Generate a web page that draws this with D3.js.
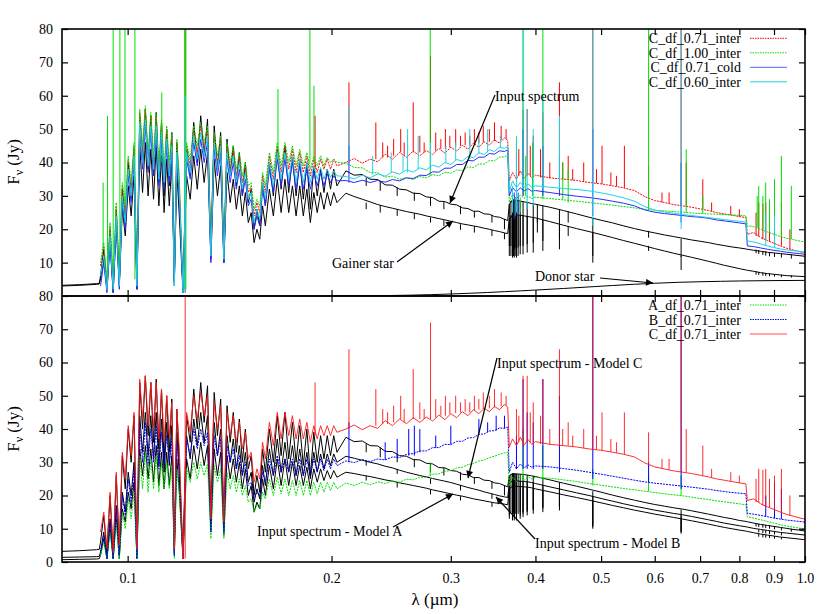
<!DOCTYPE html>
<html><head><meta charset="utf-8">
<script src="https://cdn.jsdelivr.net/npm/d3@7"></script>
<style>body{margin:0;background:#fff}text{font-family:"Liberation Serif","Times New Roman",Times,serif}</style>
</head><body>
<svg id="c" width="830" height="614"></svg>
<script>
// ---- wavelength grid (micron) ----
const grid = [0.080,0.085,0.090,0.0908,
0.0912,0.0922,0.0932,0.0942,0.0952,0.0962,0.0972,0.0982,0.0992,0.1002,0.1012,0.1022,0.1032,0.1042,0.1052,0.1062,0.1072,0.1082,0.1092,0.1102,0.1112,0.1122,0.1132,0.1142,0.1152,0.1162,0.1172,0.1182,0.1192,
0.1207,0.1222,0.1237,0.1252,0.1267,0.1282,0.1297,0.1312,0.1327,0.1342,0.1357,0.1372,0.1387,0.1402,0.1417,0.1432,0.1447,0.1462,0.1477,0.1492,0.1507,0.1522,0.1537,0.1552,0.1567,0.1582,0.1597,
0.1619,0.1641,0.1663,0.1685,0.1707,0.1729,0.1751,0.1773,0.1795,0.1817,0.1839,0.1861,0.1883,0.1905,0.1927,0.1949,0.1971,0.1993,0.2015,0.2037,
0.210,0.216,0.222,0.228,0.234,0.240,0.246,0.252,0.258,0.264,0.270,0.276,0.282,0.288,0.294,0.300,0.306,0.312,0.318,0.324,0.330,0.336,0.342,0.348,0.354,0.360,0.364,
0.366,0.370,0.375,0.380,0.385,0.390,0.395,0.400,
0.42,0.44,0.46,0.48,0.50,0.52,0.54,0.56,0.58,0.60,0.62,0.64,0.66,0.68,0.70,0.72,0.74,0.76,0.78,0.80,
0.818,0.822,0.84,0.86,0.88,0.90,0.92,0.94,0.96,0.98,1.00];

// ---- top panel series (Jy) ----
const inputTop = [3.2,3.4,3.7,3.8,
6,14,3,20,2,26,4,32,22,40,30,44,3,54,40,56,38,54,36,55,34,52,30,50,33,49,5,46,30,2,44,36,52,40,54,42,53,14,51,38,49,13,47,36,45,33,43,30,40,28,32,20,26,21,34,27,40,30,44,32,45,31,42,30,41,29,40,26,39,30,38,31,38,32,38,33,
37.5,36.2,36.4,35.0,34.9,33.3,33.2,32.0,31.8,30.8,30.7,29.7,29.5,28.4,28.3,27.5,27.3,26.4,26.2,25.4,25.4,24.6,24.5,23.8,23.6,23.0,22.6,
27.5,28.8,28.7,28.4,28.2,28.0,27.7,27.5,26.6,25.6,24.6,23.6,22.7,21.9,21.0,20.2,19.5,18.9,18.3,17.8,17.3,16.8,16.4,16.0,15.5,15.1,14.7,14.4,14.1,14.0,13.7,13.4,13.1,12.9,12.7,12.5,12.3,12.1,11.9];
const gainer = [3.0,3.2,3.5,3.6,
5,11,2,16,1,21,3,26,18,33,24,36,2,45,31,46,30,44,29,45,27,42,25,41,27,40,4,37,24,1,36,29,42,32,44,34,43,11,41,30,39,10,37,28,35,26,33,24,31,22,25,16,20,17,27,21,32,24,35,25,35,25,33,24,33,24,32,22,31,25,31,26,31,27,31,28,
30.8,29.8,29.0,28.2,27.4,26.8,26.3,25.8,25.3,24.9,24.5,24.0,23.6,23.2,22.8,22.4,22.0,21.6,21.3,21.0,20.7,20.3,20.0,19.6,19.3,18.9,18.7,
23.0,24.3,24.3,24.2,24.0,23.8,23.6,23.4,22.3,21.2,20.2,19.3,18.4,17.5,16.6,15.8,15.0,14.2,13.5,12.8,12.2,11.6,11.0,10.4,9.8,9.2,8.7,8.2,7.8,7.7,7.4,7.0,6.7,6.5,6.3,6.1,6.0,5.9,5.8];
const donor = [[0.20,0],[0.22,0.04],[0.24,0.12],[0.26,0.24],[0.28,0.40],[0.30,0.60],[0.32,0.82],[0.34,1.05],[0.36,1.30],[0.38,1.54],[0.40,1.78],[0.44,2.25],[0.48,2.72],[0.52,3.15],[0.56,3.52],[0.60,3.82],[0.65,4.10],[0.70,4.27],[0.75,4.40],[0.80,4.50],[0.90,4.62],[1.00,4.68]];
const C071inter = [null,null,null,null,
9,15,4,21,3,27,5,33,25,41,32,45,4,55,43,56,41,54,40,54,37,52,36,50,38,48,4,46,34,1,45,39,50,43,51,44,50,13,48,40,47,12,45,38,44,36,42,34,39,31,33,24,28,25,36,31,42,35,45,37,45,38,44,37,43,37,42,36,41,37,41,38,41,38,41,39,
40.0,41.2,39.8,41.0,40.2,42.5,41.0,43.0,41.6,43.4,42.0,43.6,42.4,44.2,42.8,44.6,43.4,45.2,44.0,45.8,44.6,46.2,45.2,46.8,45.8,47.4,46.6,
34.5,37.0,35.0,37.5,35.2,36.8,35.4,36.2,35.4,35.0,34.6,34.0,33.6,33.0,32.4,31.6,29.8,28.6,28.0,27.4,27.0,26.6,26.1,25.6,25.0,24.6,24.2,23.8,23.5,18.5,19.0,17.5,16.6,15.8,15.0,14.3,13.8,13.3,12.9];
const C100inter = [null,null,null,null,
10,16,5,22,4,28,6,34,27,42,34,46,5,56,45,57,43,55,42,55,39,53,38,51,40,49,5,47,36,2,46,41,51,45,52,46,51,14,49,42,48,13,46,40,45,38,43,36,40,33,34,26,29,27,37,33,43,37,46,39,46,40,45,39,44,39,43,38,42,39,42,39,41.5,40,41,40,
39.8,38.5,38.4,37.0,36.9,35.6,35.9,35.0,35.5,34.9,35.8,35.4,36.4,36.0,37.1,36.8,37.8,37.6,38.7,38.5,39.6,39.5,40.6,40.5,41.6,41.7,42.2,
28.0,30.5,29.2,30.2,29.3,29.9,29.2,29.6,29.2,28.8,28.4,28.0,27.6,27.2,26.8,26.4,26.0,25.7,25.5,25.3,25.1,24.9,24.7,24.6,24.5,24.4,24.3,24.2,24.0,21.0,20.8,20.0,19.2,18.5,17.8,17.3,16.9,16.5,16.2];
const C071cold = [null,null,null,null,
3,10,1,16,1,22,2,28,20,36,28,40,2,50,38,51,37,49,36,49,33,47,32,45,34,43,3,41,30,1,41,35,46,39,47,40,46,10,44,36,43,10,41,34,40,32,38,30,35,27,29,20,24,21,32,27,38,31,41,33,41,33,40,32,39,32,38,32,37,33,37,33,36.5,34,36,34.5,
34.6,34.0,34.7,34.0,34.6,34.1,34.9,34.5,35.4,35.2,36.2,36.1,37.2,37.1,38.3,38.3,39.4,39.4,40.6,40.5,41.6,41.6,42.7,42.5,43.5,43.3,43.8,
30.0,32.5,31.2,32.4,31.5,32.2,31.4,31.6,31.0,30.4,29.9,29.5,29.0,28.4,27.8,27.0,25.8,25.1,24.7,24.4,24.1,23.8,23.6,23.3,22.8,22.5,22.2,21.9,21.6,15.0,14.8,14.4,14.0,13.7,13.4,13.1,12.9,12.7,12.5];
const C060inter = [null,null,null,null,
6,12,2,18,2,24,3,30,22,38,30,42,3,52,40,53,39,51,38,51,35,49,34,47,36,45,3,43,32,1,43,37,48,41,49,42,48,12,46,38,45,11,43,36,42,34,40,32,37,29,31,22,26,23,34,29,40,33,43,35,43,35,42,34,41,34,40,34,39,35,38.5,35,38,35.5,37.5,36,
35.8,35.1,36.2,35.4,36.6,35.9,37.2,36.5,37.8,37.1,38.4,37.8,39.2,38.6,40.0,39.4,40.9,40.4,41.9,41.4,42.9,42.4,43.8,43.3,44.6,44.2,44.8,
31.0,34.5,32.5,34.0,32.6,33.6,32.6,33.0,32.6,32.2,31.9,31.5,30.9,30.2,29.4,28.4,26.8,25.7,25.2,24.8,24.4,24.1,23.8,23.5,23.2,22.9,22.6,22.4,22.1,16.5,16.2,15.6,15.0,14.5,14.1,13.8,13.6,13.4,13.2];

// ---- bottom panel series (Jy) ----
const inputC = [3.2,3.4,3.7,3.8,
6,14,3,20,2,26,4,32,22,40,30,44,3,54,40,56,38,54,36,55,34,52,30,50,33,49,5,46,30,2,44,36,52,40,54,42,53,14,51,38,49,13,47,36,45,33,43,30,40,28,32,20,26,21,34,27,40,30,44,32,45,31,42,30,41,29,40,26,39,30,38,31,38,32,38,33,
37.5,36.2,36.4,35.0,34.9,33.3,33.2,32.0,31.8,30.8,30.7,29.7,29.5,28.4,28.3,27.5,27.3,26.4,26.2,25.4,25.4,24.6,24.5,23.8,23.6,23.0,22.6,
26.0,26.6,26.5,26.4,26.3,26.1,25.9,25.7,24.7,23.7,22.8,21.9,21.0,20.1,19.3,18.6,17.9,17.3,16.8,16.3,15.9,15.4,14.9,14.4,13.9,13.4,13.0,12.5,12.2,12.1,11.7,11.3,11.0,10.7,10.4,10.1,9.8,9.6,9.3];
const inputB = [1.4,1.5,1.6,1.7,
3,9,1,13,1,17,2,21,15,27,20,30,2,44,33,45,32,44,31,45,29,43,27,42,29,41,3,39,26,1,38,31,43,35,45,36,44,11,42,32,40,10,38,30,37,28,35,26,33,24,27,18,22,19,29,23,34,26,37,27,36,27,35,26,34,26,33,25,33,27,32.5,28,32.5,29,32.5,30,
31.8,31.2,30.6,30.0,29.5,28.8,28.3,27.6,27.0,26.5,26.0,25.6,25.1,24.7,24.3,23.9,23.4,22.9,22.4,22.0,21.6,21.1,20.7,20.3,19.9,19.6,19.4,
23.6,24.4,24.4,24.3,24.2,24.1,23.9,23.6,22.6,21.7,20.8,20.0,19.1,18.3,17.5,16.8,16.2,15.6,15.1,14.6,14.2,13.7,13.2,12.7,12.2,11.7,11.3,10.9,10.6,10.5,10.1,9.8,9.5,9.2,8.9,8.7,8.5,8.3,8.1];
const inputA = [0.7,0.8,0.9,1.0,
2,7,1,10,1,13,1,16,12,21,16,24,1,34,26,35,25,34,24,35,23,33,22,33,23,32,2,31,21,1,31,25,35,28,36,29,35,9,34,26,33,8,32,25,31,24,30,22,28,20,23,15,18,16,25,20,29,22,31,23,31,23,30,23,29,23,28.5,22,28,24,28,24.5,27.5,25,27.5,25.5,
27.0,26.6,26.1,25.7,25.2,24.7,24.3,23.8,23.4,23.0,22.6,22.2,21.7,21.3,20.9,20.5,20.1,19.8,19.4,19.0,18.7,18.4,18.1,17.8,17.6,17.4,17.2,
22.0,22.8,22.8,22.7,22.6,22.5,22.3,22.0,21.1,20.2,19.4,18.6,17.8,17.0,16.3,15.6,15.0,14.4,13.9,13.4,12.9,12.4,11.9,11.4,10.9,10.4,10.0,9.6,9.3,9.2,8.8,8.4,8.1,7.8,7.5,7.3,7.1,6.9,6.7];
const B071inter = [null,null,null,null,
3,8,1,12,1,16,2,20,14,25,18,28,1,41,30,42,29,40,30,41,28,39,29,38,30,37,2,36,28,1,37,32,40,34,40,35,39,9,38,32,37,9,35,30,34,28,32,26,30,23,24,19,21,20,27,24,31,26,32,27,31,27,31,26,31,26,31,26,31,27,31,27.5,31,28,31,29,
30.4,29.9,30.8,30.2,31.0,30.7,31.6,31.4,32.4,32.6,33.4,33.4,34.4,34.4,35.4,35.3,36.3,36.3,37.3,37.4,38.4,38.5,39.4,39.5,40.3,40.2,40.6,
27.0,30.0,28.0,29.5,28.3,29.2,28.5,28.9,28.6,28.1,27.6,27.0,26.4,25.8,25.2,24.6,24.1,23.7,23.4,23.1,22.8,22.5,22.2,21.9,21.5,21.2,20.9,20.7,20.5,14.6,14.4,14.0,13.6,13.2,12.9,12.6,12.4,12.2,12.0];
const A071inter = [null,null,null,null,
2,6,1,9,1,12,1,15,10,19,13,21,1,32,22,33,21,31,22,32,21,30,22,30,22,29,1,28,21,1,28,24,30,25,30,26,29.5,7,29,24,28,7,27,22,26,21,25,20,23,18,19,15,17,16,21,19,25,20,25.5,20.5,25,20,24.5,20,24.5,20,24.5,20,24,20.5,24,21,24,21.5,24,22,
23.8,23.0,24.0,23.2,24.1,23.6,24.4,24.0,24.9,24.7,25.5,25.5,26.4,26.5,27.3,27.5,28.3,28.5,29.3,29.6,30.4,30.7,31.4,31.8,32.4,32.8,33.0,
23.0,25.5,24.2,25.6,24.6,25.6,25.0,25.5,25.2,24.7,24.2,23.6,23.1,22.6,22.1,21.7,21.3,20.9,20.5,20.2,19.9,19.5,19.1,18.8,18.4,18.1,17.8,17.5,17.2,13.6,13.2,12.7,12.2,11.7,11.2,10.8,10.5,10.2,10.0];

// ---- narrow lines: [wavelength, low Jy, high Jy] ----
const C100Lines = [[0.0920,14,34],[0.0934,5,54],[0.0952,4,85],[0.0974,6,85],[0.0991,27,85],[0.1025,5,85],[0.1123,40,61],[0.1214,2,85],[0.1219,2,85],[0.1667,40,62],[0.1858,40,85],[0.1884,40,63],[0.2797,36,85],[0.3734,24,29.5],[0.3798,25,29.5],[0.3835,30,85],[0.3870,30,42],[0.3960,30,46],[0.4102,29,85],[0.4390,29,40],[0.4471,28,38],[0.5876,25.8,85],[0.6678,25,44],[0.7065,24.6,30],[0.8500,20.5,30],[0.8545,20.4,33],[0.8665,20,30],[0.8750,19.7,34],[0.8863,19.3,29],[0.9015,18.7,35],[0.9229,17.8,42],[0.9546,17.1,33]];
const C071Lines = [[0.1216,1,85],[0.1891,38,54],[0.2122,40,64],[0.2325,41,52],[0.2380,41.5,46],[0.2420,41.5,45],[0.2470,42,47],[0.2530,43,50],[0.2560,42,46],[0.2640,43,58],[0.2700,43,48],[0.2740,43,46],[0.2800,43,72],[0.2850,43.5,49],[0.2900,44,47],[0.2945,44,50],[0.2990,44.5,48],[0.3050,44.8,50],[0.3100,45,48],[0.3150,45.2,49],[0.3200,45,48],[0.3250,45.6,50],[0.3300,45.8,49],[0.3350,46,51],[0.3420,46.2,50],[0.3480,46.5,52],[0.3560,46.8,51],[0.3620,47,50],
[0.3750,36,46],[0.3780,36,44],[0.3835,35,56],[0.3889,36,56],[0.3930,36,45],[0.3970,36,48],[0.4070,35.5,44],[0.4102,35.5,55],[0.4200,35.3,40],[0.4340,35,64],[0.4388,35,40],[0.4471,35,42],[0.4540,34.7,38],[0.4713,34.3,40],[0.4861,34,85],[0.4922,33.8,38],[0.5016,33.6,45],[0.5169,33.1,37],[0.5270,32.9,36],[0.5412,32.4,45],[0.5876,29.5,39],[0.6150,28.1,31],[0.6300,27.8,31],[0.6563,27,85],[0.6678,26.9,40],[0.7065,26,35],[0.7280,25.4,28],[0.7770,24.3,27],[0.8000,23.8,26],[0.8467,18,25],[0.8545,17.8,28],[0.8665,17,27.7],[0.8750,16.8,28],[0.8863,16.4,25],[0.9015,15.8,26],[0.9229,15.1,28],[0.9500,14,20]];
const C071coldLines = [[0.2122,34,45],[0.3722,23,31],[0.3771,24,31],[0.3835,30,50],[0.4102,30,45],[0.4340,30,42],[0.4861,24,50],[0.6563,22,40]];
const C060Lines = [[0.1216,1,60],[0.2122,40,57],[0.2300,36.4,42],[0.2450,37,43],[0.2550,37.4,42],[0.2590,37,50],[0.2685,38,48],[0.2800,38,46],[0.2950,40,45],[0.3050,40.5,46],[0.3200,41,50],[0.3300,42.6,47],[0.3400,43,50],[0.3550,44.3,48],[0.3700,25,33],[0.3750,25,48],[0.3835,32,85],[0.3889,26,56],[0.3970,27,50],[0.4102,32,60],[0.4340,32,54],[0.4861,21,85],[0.6563,20,85],[0.8750,15,25],[0.9015,14.5,24]];
const inputTopLines = [[0.2250,33,35.5],[0.2360,31.5,34.5],[0.2500,30,32.5],[0.2650,28.5,31],[0.2800,27,29.7],[0.2930,26,28.3],[0.3100,24.5,27],[0.3250,23.5,25.5],[0.3450,22,24.3],[0.3600,20,23.1],[0.3660,15,27.5],[0.3680,15,28.5],[0.3700,14,28.8],[0.3712,14.5,28.8],[0.3722,14,28.8],[0.3734,14.5,28.7],[0.3750,14,28.7],[0.3771,14.5,28.6],[0.3798,15,28.4],[0.3835,15,28.3],[0.3889,15.5,28.1],[0.3970,16,27.7],[0.4026,22,27.4],[0.4102,16.5,27.1],[0.4340,17,26],[0.4471,22,25.3],[0.4861,12,23.4],[0.5876,17.5,19.5],[0.6563,11.7,17.1],[0.8467,12.8,13.9],[0.8545,12.6,13.8],[0.8665,12.3,13.5],[0.8750,12.1,13.4],[0.8863,11.9,13.2],[0.9015,11.7,12.9],[0.9229,11.5,12.7],[0.9546,11.2,12.4]];
const gainerLines = [[0.2250,26,28],[0.2360,25,27.2],[0.2500,24,25.9],[0.2650,23,24.8],[0.2800,22,23.5],[0.2930,21,22.7],[0.3100,19.8,21.5],[0.3250,19,20.9],[0.3450,18,19.8],[0.3600,17,18.9],[0.3660,12,23],[0.3680,12,24.2],[0.3700,11.5,24.3],[0.3712,12,24.3],[0.3722,11.5,24.3],[0.3734,12,24.3],[0.3750,11.5,24.3],[0.3771,12,24.2],[0.3798,12.5,24.2],[0.3835,12.5,24.1],[0.3889,13,23.9],[0.3970,13,23.6],[0.4026,19,23.3],[0.4102,13.5,22.9],[0.4340,14,21.6],[0.4471,18,21],[0.4861,10,19],[0.5876,13.5,15],[0.6563,7.8,12.0],[0.8467,6.4,7.3],[0.8545,6.3,7.2],[0.8665,6.1,7.0],[0.8750,6.0,6.9],[0.8863,5.9,6.8],[0.9015,5.8,6.6],[0.9229,5.6,6.4],[0.9546,5.5,6.2]];
const inputCLines = [[0.2250,33,35.5],[0.2360,31.5,34.5],[0.2500,30,32.5],[0.2650,28.5,31],[0.2800,27,29.7],[0.2930,26,28.3],[0.3100,24.5,27],[0.3250,23.5,25.5],[0.3450,22,24.3],[0.3600,20,23.1],[0.3660,15,26],[0.3680,15,26.4],[0.3700,14,26.6],[0.3712,14.5,26.6],[0.3722,14,26.6],[0.3734,14.5,26.5],[0.3750,14,26.5],[0.3771,14.5,26.4],[0.3798,15,26.4],[0.3835,15,26.3],[0.3889,15.5,26.1],[0.3970,16,25.8],[0.4102,16.5,25.1],[0.4340,17,24.0],[0.4861,11.1,21.3],[0.6563,9.1,15.8],[0.8467,10.7,11.6],[0.8545,10.5,11.5],[0.8665,10.3,11.3],[0.8750,10.2,11.1],[0.8863,10.0,11.0],[0.9015,9.8,10.7],[0.9229,9.5,10.4],[0.9546,9.1,10.0]];
const inputBLines = [[0.2250,29,30.4],[0.2500,26.5,28],[0.2800,23.5,25],[0.3100,21.5,23.1],[0.3450,19,20.5],[0.3660,14,23.6],[0.3700,13.5,24.4],[0.3722,13.5,24.4],[0.3750,13.5,24.4],[0.3798,14,24.3],[0.3835,14.5,24.2],[0.3889,15,24.1],[0.3970,15.5,23.8],[0.4102,16,23.1],[0.4340,16.5,22.2],[0.4861,10.5,19.6],[0.6563,9.0,14.0],[0.8545,8.9,9.8],[0.8665,8.7,9.6],[0.8750,8.6,9.5],[0.8863,8.4,9.4],[0.9015,8.3,9.2],[0.9229,8.0,8.9]];
const inputALines = [[0.2250,24.5,25.9],[0.2500,22.4,23.8],[0.2800,20.3,21.7],[0.3100,18.5,19.8],[0.3450,16.6,17.9],[0.3660,13,22],[0.3700,12.5,22.8],[0.3722,12.5,22.8],[0.3750,12.5,22.8],[0.3798,13,22.7],[0.3835,13.5,22.6],[0.3889,14,22.5],[0.3970,14.5,22.2],[0.4102,15,21.4],[0.4340,15.5,20.5],[0.4861,10,18.4],[0.6563,8.5,13.0],[0.8545,7.6,8.4],[0.8665,7.4,8.3],[0.8750,7.3,8.2],[0.8863,7.2,8.1],[0.9015,7.0,7.8],[0.9229,6.8,7.5]];
const B071Lines = [[0.2122,30,42],[0.2400,30.7,36],[0.2500,31.3,37],[0.2600,32,40],[0.2650,32,41],[0.2700,33,40],[0.2850,34.4,38],[0.3000,35.3,41],[0.3300,38.4,43],[0.3400,39,42],[0.3500,39.5,44],[0.3600,40.2,44],[0.3750,28,38],[0.3835,28,55],[0.3889,28,45],[0.3970,28,42],[0.4102,28,55],[0.4340,27,50],[0.4861,25,85],[0.5876,24,30],[0.6563,22,85],[0.8750,13.6,20],[0.9015,13.2,24],[0.9229,12.9,22]];
const A071Lines = [[0.2797,26,30],[0.3835,24.5,40],[0.4102,24.5,35],[0.4861,23,28],[0.5876,21.3,26],[0.6563,20,26]];

const xTicks = [0.1,0.2,0.3,0.4,0.5,0.6,0.7,0.8,0.9,1.0];
const yTicksTop = [10,20,30,40,50,60,70,80];
const yTicksBot = [0,10,20,30,40,50,60,70,80];
const legendTop = ["C_df_0.71_inter","C_df_1.00_inter","C_df_0.71_cold","C_df_0.60_inter"];
const legendBot = ["A_df_0.71_inter","B_df_0.71_inter","C_df_0.71_inter"];

// ---- drawing ----
const svg = d3.select('#c');
const L=62,R=805,T1=29,M=296,B2=562;
const x = d3.scaleLog().domain([0.08,1]).range([L,R]);
const yT = d3.scaleLinear().domain([0,80]).range([M,T1]);
const yB = d3.scaleLinear().domain([0,80]).range([B2,M]);
const FONT = '"Liberation Serif","Times New Roman",Times,serif';

const defs = svg.append('defs');
defs.append('clipPath').attr('id','cT').append('rect').attr('x',L).attr('y',T1).attr('width',R-L).attr('height',M-T1);
defs.append('clipPath').attr('id','cB').append('rect').attr('x',L).attr('y',M).attr('width',R-L).attr('height',B2-M);
defs.append('marker').attr('id','ah').attr('viewBox','0 0 10 10').attr('refX',10).attr('refY',5)
  .attr('markerWidth',9).attr('markerHeight',7).attr('markerUnits','userSpaceOnUse').attr('orient','auto')
  .append('path').attr('d','M0,0L10,5L0,10z').attr('fill','#000');

const gT = svg.append('g').attr('clip-path','url(#cT)');
const gB = svg.append('g').attr('clip-path','url(#cB)');

function drawSeries(g, y, vals, color, w, dash, op){
  const pts = grid.map((wl,i)=>[wl, vals[i]]);
  const ln = d3.line().defined(d=>d[1]!=null).x(d=>x(d[0])).y(d=>y(d[1]));
  g.append('path').attr('d', ln(pts)).attr('fill','none').attr('stroke',color)
   .attr('stroke-width',w).attr('stroke-dasharray',dash).attr('stroke-opacity',op||1).attr('stroke-linejoin','round');
}
function drawPairs(g, y, pts, color, w){
  const ln = d3.line().x(d=>x(d[0])).y(d=>y(d[1]));
  g.append('path').attr('d', ln(pts)).attr('fill','none').attr('stroke',color).attr('stroke-width',w);
}
function drawLines(g, y, list, color, w, op){
  g.append('g').selectAll('line').data(list).join('line')
   .attr('x1',d=>x(d[0])).attr('x2',d=>x(d[0])).attr('y1',d=>y(d[1])).attr('y2',d=>y(d[2]))
   .attr('stroke',color).attr('stroke-width',w).attr('stroke-opacity',op||1);
}

const RED='#ff0000', GREEN='#00e000', BLUE='#0000ff', BLUE2='#2a2aff', CYAN='#1ed2e4';
// top panel
drawSeries(gT,yT,gainer,'#000',1); drawLines(gT,yT,gainerLines,'#000',1);
drawSeries(gT,yT,inputTop,'#000',1); drawLines(gT,yT,inputTopLines,'#000',1);
drawPairs(gT,yT,donor,'#000',1);
drawSeries(gT,yT,C071inter,RED,1,'2,1'); drawLines(gT,yT,C071Lines,RED,1);
drawSeries(gT,yT,C100inter,GREEN,1,'2,1'); drawLines(gT,yT,C100Lines,GREEN,1,1);
drawSeries(gT,yT,C071cold,BLUE2,1); drawLines(gT,yT,C071coldLines,BLUE2,1);
drawSeries(gT,yT,C060inter,CYAN,1); drawLines(gT,yT,C060Lines,CYAN,1);
// bottom panel
drawSeries(gB,yB,inputA,'#000',1); drawLines(gB,yB,inputALines,'#000',1);
drawSeries(gB,yB,inputB,'#000',1); drawLines(gB,yB,inputBLines,'#000',1);
drawSeries(gB,yB,inputC,'#000',1); drawLines(gB,yB,inputCLines,'#000',1);
drawSeries(gB,yB,A071inter,GREEN,1,'2,1'); drawLines(gB,yB,A071Lines,GREEN,1);
drawSeries(gB,yB,B071inter,BLUE,1,'2,1'); drawLines(gB,yB,B071Lines,BLUE,1);
drawSeries(gB,yB,C071inter,'#ff1a1a',1,null,0.9); drawLines(gB,yB,C071Lines,'#ff1010',1,0.88);

// axes
function styleAxis(g){ g.select('.domain').remove(); g.selectAll('line').attr('stroke','#000').attr('stroke-width',1.2);
  g.selectAll('text').attr('font-family',FONT).attr('font-size',14).attr('fill','#000'); return g; }
styleAxis(svg.append('g').attr('transform',`translate(${L},0)`).call(d3.axisLeft(yT).tickValues(yTicksTop).tickSizeInner(-6).tickSizeOuter(0).tickPadding(9)));
styleAxis(svg.append('g').attr('transform',`translate(${L},0)`).call(d3.axisLeft(yB).tickValues(yTicksBot).tickSizeInner(-6).tickSizeOuter(0).tickPadding(9)));
styleAxis(svg.append('g').attr('transform',`translate(${R},0)`).call(d3.axisRight(yT).tickValues(yTicksTop).tickSizeInner(-6).tickSizeOuter(0).tickFormat('')));
styleAxis(svg.append('g').attr('transform',`translate(${R},0)`).call(d3.axisRight(yB).tickValues(yTicksBot).tickSizeInner(-6).tickSizeOuter(0).tickFormat('')));
styleAxis(svg.append('g').attr('transform',`translate(0,${T1})`).call(d3.axisTop(x).tickValues(xTicks).tickSizeInner(-6).tickSizeOuter(0).tickFormat('')));
styleAxis(svg.append('g').attr('transform',`translate(0,${M})`).call(d3.axisBottom(x).tickValues(xTicks).tickSizeInner(-6).tickSizeOuter(0).tickFormat('')));
styleAxis(svg.append('g').attr('transform',`translate(0,${M})`).call(d3.axisTop(x).tickValues(xTicks).tickSizeInner(-6).tickSizeOuter(0).tickFormat('')));
styleAxis(svg.append('g').attr('transform',`translate(0,${B2})`).call(d3.axisBottom(x).tickValues(xTicks).tickSizeInner(-6).tickSizeOuter(0).tickPadding(11).tickFormat(d=>d.toFixed(1))));

svg.append('rect').attr('x',L).attr('y',T1).attr('width',R-L).attr('height',M-T1).attr('fill','none').attr('stroke','#000').attr('stroke-width',1.6);
svg.append('rect').attr('x',L).attr('y',M).attr('width',R-L).attr('height',B2-M).attr('fill','none').attr('stroke','#000').attr('stroke-width',1.6);

// titles
function yTitle(cy){
  const t = svg.append('text').attr('transform',`translate(19,${cy}) rotate(-90)`).attr('text-anchor','middle')
    .attr('font-family',FONT).attr('font-size',17);
  t.append('tspan').text('F');
  t.append('tspan').attr('font-size',12).attr('dy',4).text('ν');
  t.append('tspan').attr('dy',-4).text(' (Jy)');
}
yTitle(162); yTitle(429);
svg.append('text').attr('x',435).attr('y',605).attr('text-anchor','middle').attr('font-family',FONT).attr('font-size',17).text('λ (µm)');

// legends
function legend(items, colors, dashes, y0){
  items.forEach((s,i)=>{
    const cy = y0 + i*14.5;
    svg.append('text').attr('x',741).attr('y',cy+5).attr('text-anchor','end').attr('font-family',FONT).attr('font-size',14).text(s);
    svg.append('line').attr('x1',750).attr('x2',787).attr('y1',cy).attr('y2',cy).attr('stroke',colors[i]).attr('stroke-width',1).attr('stroke-dasharray',dashes[i]);
  });
}
legend(legendTop,[RED,GREEN,'#6060ff',CYAN],['1.5,1','1.5,1',null,null],38.3);
legend(legendBot,[GREEN,BLUE,'#ff5050'],['1.5,1','1.5,1',null],305);

// annotations
function note(txt, tx, ty, x1, y1, x2, y2){
  svg.append('text').attr('x',tx).attr('y',ty).attr('font-family',FONT).attr('font-size',14).text(txt);
  svg.append('line').attr('x1',x1).attr('y1',y1).attr('x2',x2).attr('y2',y2).attr('stroke','#000').attr('stroke-width',1.2).attr('marker-end','url(#ah)');
}
note('Input spectrum',495,101,495,95,450,203);
note('Gainer star',332,268,397,262,453,221);
note('Donor star',535,281,600,278,653,283);
note('Input spectrum - Model C',497,368,497,358,468,478);
note('Input spectrum - Model A',257,536,393,527,453,494);
note('Input spectrum - Model B',535,548,535,539,496,497);
</script>
</body></html>
